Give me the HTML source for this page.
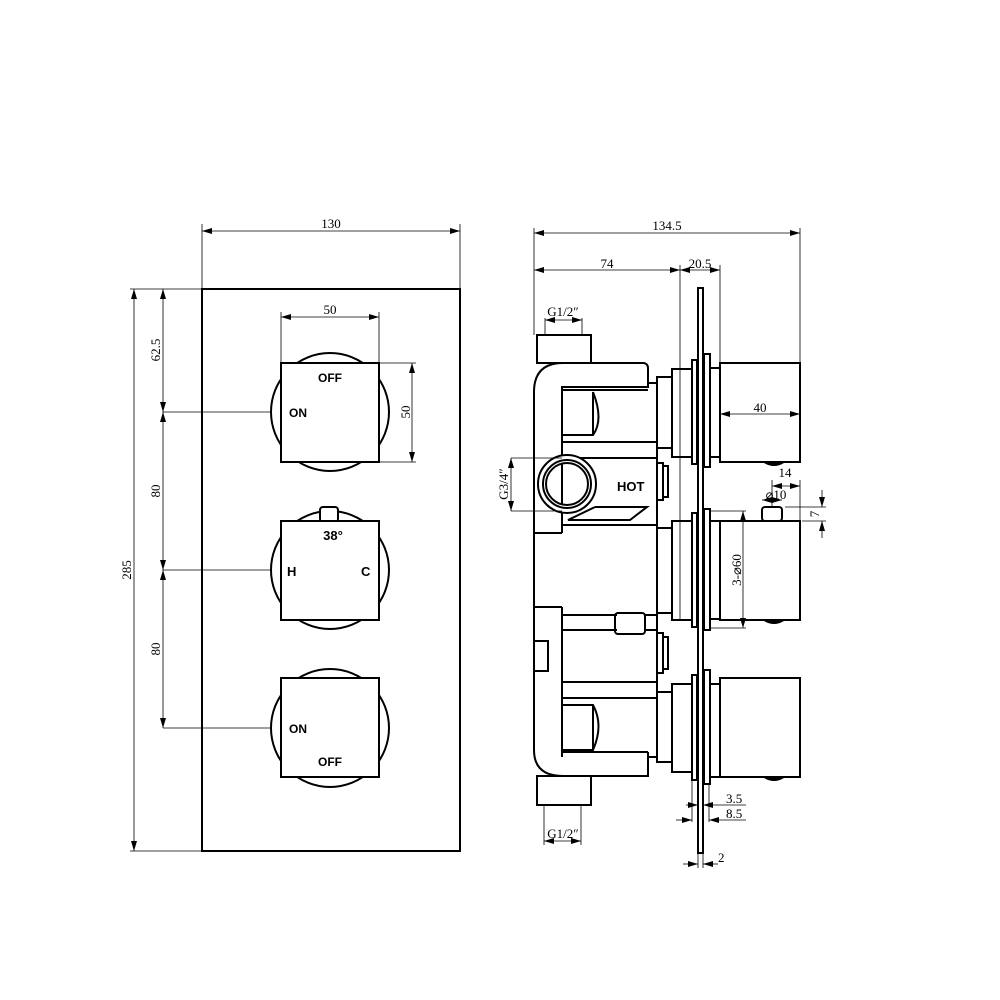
<!DOCTYPE html>
<html><head><meta charset="utf-8"><style>
html,body{margin:0;padding:0;background:#fff;}
svg{display:block;}
text{font-family:"Liberation Serif",serif;fill:#000;}
.s{font-family:"Liberation Sans",sans-serif;}
</style></head><body>
<svg width="1000" height="1000" viewBox="0 0 1000 1000" xmlns="http://www.w3.org/2000/svg">
<defs>
<marker id="a" viewBox="0 0 10 6" refX="10" refY="3" markerWidth="10" markerHeight="6" orient="auto-start-reverse" markerUnits="userSpaceOnUse"><path d="M0,0 L10,3 L0,6 z" fill="#000"/></marker>
</defs>
<g fill="none" stroke="#000" stroke-width="2">
<rect x="202" y="289" width="258" height="562"/>
<circle cx="330" cy="412" r="59"/>
<rect x="281" y="363" width="98" height="99" fill="#fff"/>
<circle cx="330" cy="570" r="59"/>
<rect x="320" y="507" width="18" height="15" rx="3" fill="#fff"/>
<rect x="281" y="521" width="98" height="99" fill="#fff"/>
<circle cx="330" cy="728" r="59"/>
<rect x="281" y="678" width="98" height="99" fill="#fff"/>
</g>
<g fill="none" stroke="#000" stroke-width="0.8">
<line x1="202" y1="289" x2="202" y2="224"/><line x1="460" y1="289" x2="460" y2="224"/>
<line x1="202" y1="231" x2="460" y2="231" marker-start="url(#a)" marker-end="url(#a)"/>
<line x1="281" y1="362" x2="281" y2="312"/><line x1="379" y1="362" x2="379" y2="312"/>
<line x1="281" y1="317" x2="379" y2="317" marker-start="url(#a)" marker-end="url(#a)"/>
<line x1="380" y1="363" x2="416" y2="363"/><line x1="380" y1="462" x2="416" y2="462"/>
<line x1="412" y1="363" x2="412" y2="462" marker-start="url(#a)" marker-end="url(#a)"/>
<line x1="130" y1="289" x2="202" y2="289"/><line x1="130" y1="851" x2="202" y2="851"/>
<line x1="134" y1="289" x2="134" y2="851" marker-start="url(#a)" marker-end="url(#a)"/>
<line x1="163" y1="289" x2="163" y2="412" marker-start="url(#a)" marker-end="url(#a)"/>
<line x1="163" y1="412" x2="163" y2="570" marker-start="url(#a)" marker-end="url(#a)"/>
<line x1="163" y1="570" x2="163" y2="728" marker-start="url(#a)" marker-end="url(#a)"/>
<line x1="163" y1="412" x2="270" y2="412"/>
<line x1="163" y1="570" x2="270" y2="570"/>
<line x1="163" y1="728" x2="270" y2="728"/>
</g>
<g font-size="13">
<text x="331" y="228" text-anchor="middle">130</text>
<text x="330" y="314" text-anchor="middle">50</text>
<text transform="translate(410,412) rotate(-90)" text-anchor="middle">50</text>
<text transform="translate(160,350) rotate(-90)" text-anchor="middle">62.5</text>
<text transform="translate(160,491) rotate(-90)" text-anchor="middle">80</text>
<text transform="translate(160,649) rotate(-90)" text-anchor="middle">80</text>
<text transform="translate(131,570) rotate(-90)" text-anchor="middle">285</text>
</g>
<g class="s" font-size="12" font-weight="bold">
<text class="s" x="330" y="382" text-anchor="middle">OFF</text>
<text class="s" x="289" y="417">ON</text>
<text class="s" x="333" y="540" text-anchor="middle" font-size="13">38°</text>
<text class="s" x="287" y="576" font-size="13">H</text>
<text class="s" x="361" y="576" font-size="13">C</text>
<text class="s" x="289" y="733">ON</text>
<text class="s" x="330" y="766" text-anchor="middle">OFF</text>
</g>

<g fill="none" stroke="#000" stroke-width="2">
<rect x="537" y="335" width="54" height="28"/>
<path d="M534,533 L534,392 Q534,363 563,363 L644,363 Q648,364 648,368 L648,387 L562,387 L562,440"/>
<line x1="562" y1="390" x2="648" y2="390"/>
<path d="M562,390 L562,435 L593,435 Q604,420 593,392"/>
<line x1="593" y1="392" x2="593" y2="435"/>
<line x1="648" y1="383" x2="657" y2="383"/>
<line x1="562" y1="442" x2="657" y2="442"/>
<line x1="562" y1="458" x2="657" y2="458"/>
<line x1="562" y1="440" x2="562" y2="533"/>
<circle cx="567" cy="484" r="29" fill="#fff"/>
<circle cx="567" cy="484" r="24"/>
<circle cx="567" cy="484" r="21"/>
<line x1="562" y1="463" x2="562" y2="505"/>
<path d="M595,507 L647,507 L630,520 L568,520 L595,507"/>
<line x1="562" y1="525" x2="657" y2="525"/>
<line x1="534" y1="533" x2="562" y2="533"/>
<rect x="657" y="463" width="6" height="37"/>
<rect x="663" y="466" width="5" height="31"/>
<line x1="657" y1="378" x2="657" y2="762"/>
<line x1="534" y1="533" x2="534" y2="750"/>
<line x1="562" y1="607" x2="562" y2="757"/>
<line x1="534" y1="607" x2="562" y2="607"/>
<rect x="534" y="641" width="14" height="30"/>
<line x1="562" y1="615" x2="617" y2="615"/>
<line x1="562" y1="630" x2="617" y2="630"/>
<rect x="615" y="613" width="30" height="21" rx="3"/>
<line x1="645" y1="615" x2="657" y2="615"/>
<line x1="645" y1="630" x2="657" y2="630"/>
<rect x="657" y="633" width="6" height="40"/>
<rect x="663" y="637" width="5" height="32"/>
<line x1="562" y1="682" x2="657" y2="682"/>
<line x1="562" y1="698" x2="657" y2="698"/>
<path d="M562,705 L593,705 Q604,725 593,750 L562,750"/>
<line x1="593" y1="705" x2="593" y2="750"/>
<line x1="562" y1="752" x2="648" y2="752"/>
<path d="M534,750 Q534,776 563,776 L648,776 L648,752"/>
<line x1="648" y1="757" x2="657" y2="757"/>
<rect x="537" y="776" width="54" height="29"/>
<rect x="657" y="528" width="15" height="85"/>
<rect x="657" y="377" width="15" height="71"/>
<rect x="672" y="369" width="20" height="88"/>
<rect x="692" y="360" width="5" height="104"/>
<rect x="704" y="354" width="6" height="113"/>
<rect x="710" y="368" width="10" height="89"/>
<rect x="720" y="363" width="80" height="99"/>
<rect x="672" y="521" width="20" height="99"/>
<rect x="692" y="513" width="5" height="114"/>
<rect x="704" y="509" width="6" height="121"/>
<rect x="710" y="521" width="10" height="98"/>
<rect x="720" y="521" width="80" height="99"/>
<rect x="762" y="507" width="20" height="14" rx="3"/>
<rect x="657" y="692" width="15" height="70"/>
<rect x="672" y="684" width="20" height="88"/>
<rect x="692" y="675" width="5" height="105"/>
<rect x="704" y="670" width="6" height="114"/>
<rect x="710" y="684" width="10" height="93"/>
<rect x="720" y="678" width="80" height="99"/>
<rect x="698" y="288" width="5" height="565" fill="#fff"/>
</g>
<g fill="#000">
<path d="M764,463 Q774,469 784,463 z"/>
<path d="M764,621 Q774,627 784,621 z"/>
<path d="M764,778 Q774,784 784,778 z"/>
</g>
<g fill="none" stroke="#000" stroke-width="0.8">
<line x1="534" y1="228" x2="534" y2="335"/><line x1="800" y1="228" x2="800" y2="363"/>
<line x1="534" y1="233" x2="800" y2="233" marker-start="url(#a)" marker-end="url(#a)"/>
<line x1="534" y1="270" x2="680" y2="270" marker-start="url(#a)" marker-end="url(#a)"/>
<line x1="680" y1="270" x2="720" y2="270" marker-start="url(#a)" marker-end="url(#a)"/>
<line x1="680" y1="265" x2="680" y2="620"/><line x1="720" y1="265" x2="720" y2="363"/>
<line x1="545" y1="320" x2="582" y2="320" marker-start="url(#a)" marker-end="url(#a)"/>
<line x1="545" y1="318" x2="545" y2="335"/><line x1="582" y1="318" x2="582" y2="335"/>
<line x1="720" y1="414" x2="800" y2="414" marker-start="url(#a)" marker-end="url(#a)"/>
<line x1="511" y1="458" x2="562" y2="458"/><line x1="511" y1="511" x2="562" y2="511"/>
<line x1="511" y1="458" x2="511" y2="511" marker-start="url(#a)" marker-end="url(#a)"/>
<line x1="772" y1="480" x2="772" y2="506"/><line x1="800" y1="480" x2="800" y2="520"/>
<line x1="772" y1="486" x2="800" y2="486" marker-start="url(#a)" marker-end="url(#a)"/>
<line x1="762" y1="500" x2="782" y2="500" marker-start="url(#a)" marker-end="url(#a)"/>
<line x1="785" y1="507" x2="826" y2="507"/><line x1="802" y1="521" x2="826" y2="521"/>
<line x1="822" y1="490" x2="822" y2="507" marker-end="url(#a)"/><line x1="822" y1="538" x2="822" y2="521" marker-end="url(#a)"/>
<line x1="710" y1="511" x2="746" y2="511"/><line x1="710" y1="628" x2="746" y2="628"/>
<line x1="743" y1="511" x2="743" y2="628" marker-start="url(#a)" marker-end="url(#a)"/>
<line x1="692" y1="780" x2="692" y2="822"/><line x1="709" y1="784" x2="709" y2="822"/><line x1="698" y1="853" x2="698" y2="868"/><line x1="703" y1="853" x2="703" y2="868"/>
<line x1="686" y1="805" x2="698" y2="805" marker-end="url(#a)"/><line x1="746" y1="805" x2="703" y2="805" marker-end="url(#a)"/>
<line x1="676" y1="820" x2="692" y2="820" marker-end="url(#a)"/><line x1="746" y1="820" x2="709" y2="820" marker-end="url(#a)"/>
<line x1="683" y1="864" x2="698" y2="864" marker-end="url(#a)"/><line x1="718" y1="864" x2="703" y2="864" marker-end="url(#a)"/>
<line x1="544" y1="805" x2="544" y2="845"/><line x1="581" y1="805" x2="581" y2="845"/>
<line x1="544" y1="841" x2="581" y2="841" marker-start="url(#a)" marker-end="url(#a)"/>
</g>
<g font-size="13">
<text x="667" y="230" text-anchor="middle">134.5</text>
<text x="607" y="268" text-anchor="middle">74</text>
<text x="700" y="268" text-anchor="middle">20.5</text>
<text x="563" y="316" text-anchor="middle">G1/2″</text>
<text x="760" y="412" text-anchor="middle">40</text>
<text x="785" y="477" text-anchor="middle">14</text>
<text x="776" y="499" text-anchor="middle">⌀10</text>
<text transform="translate(819,514) rotate(-90)" text-anchor="middle">7</text>
<text transform="translate(508,484) rotate(-90)" text-anchor="middle">G3/4″</text>
<text transform="translate(741,570) rotate(-90)" text-anchor="middle">3-⌀60</text>
<text x="726" y="803">3.5</text>
<text x="726" y="818">8.5</text>
<text x="718" y="862">2</text>
<text x="563" y="838" text-anchor="middle">G1/2″</text>
</g>
<text class="s" x="617" y="491" font-size="13" font-weight="bold">HOT</text>
</svg>
</body></html>
